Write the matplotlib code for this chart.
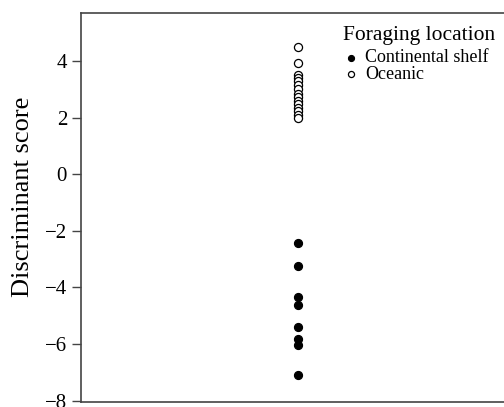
import matplotlib
matplotlib.use("Agg")
import matplotlib.pyplot as plt

plt.rcParams['font.family'] = ['Liberation Serif', 'DejaVu Serif']

shelf_scores = [-2.42, -3.23, -4.33, -4.63, -5.39, -5.83, -6.04, -7.08]
oceanic_scores = [4.50, 3.92, 3.50, 3.40, 3.28, 3.15, 3.00, 2.85, 2.72, 2.60,
                  2.48, 2.35, 2.22, 2.10, 1.98]
yticks = [4, 2, 0, -2, -4, -6, -8]

fig = plt.figure(figsize=(5.04, 4.07), dpi=100)
ax = fig.add_axes([81/504, 5/407, 434/504, 389/407])

ax.scatter([1]*len(shelf_scores), shelf_scores, s=34, c='black', edgecolors='black',
           linewidths=0.8, label='Continental shelf', zorder=3)
ax.scatter([1]*len(oceanic_scores), oceanic_scores, s=34, facecolors='white',
           edgecolors='black', linewidths=0.9, label='Oceanic', zorder=3)

ax.set_xlim(0, 2)
ax.set_ylim(-8.05, 5.7)
ax.set_yticks(yticks)
ax.set_yticklabels([str(t).replace('-', '\u2212') for t in yticks])
ax.set_xticks([])
ax.tick_params(axis='y', direction='out', length=6.5, width=1, color='#444444',
               labelsize=15, pad=3.5)
for s in ax.spines.values():
    s.set_color('#444444')
    s.set_linewidth(1.2)
ax.set_ylabel('Discriminant score', fontsize=19, labelpad=8, y=0.528)

leg = ax.legend(title='Foraging location', loc='upper left',
                bbox_to_anchor=(249/434, 1.0), frameon=False,
                fontsize=13, title_fontsize=15.5, handletextpad=0.35,
                handlelength=0.9, borderpad=0.2, labelspacing=-0.05,
                markerscale=0.75)
leg._legend_box.align = 'left'
leg._legend_box.sep = 3.5

fig.savefig('out.png', dpi=100)
